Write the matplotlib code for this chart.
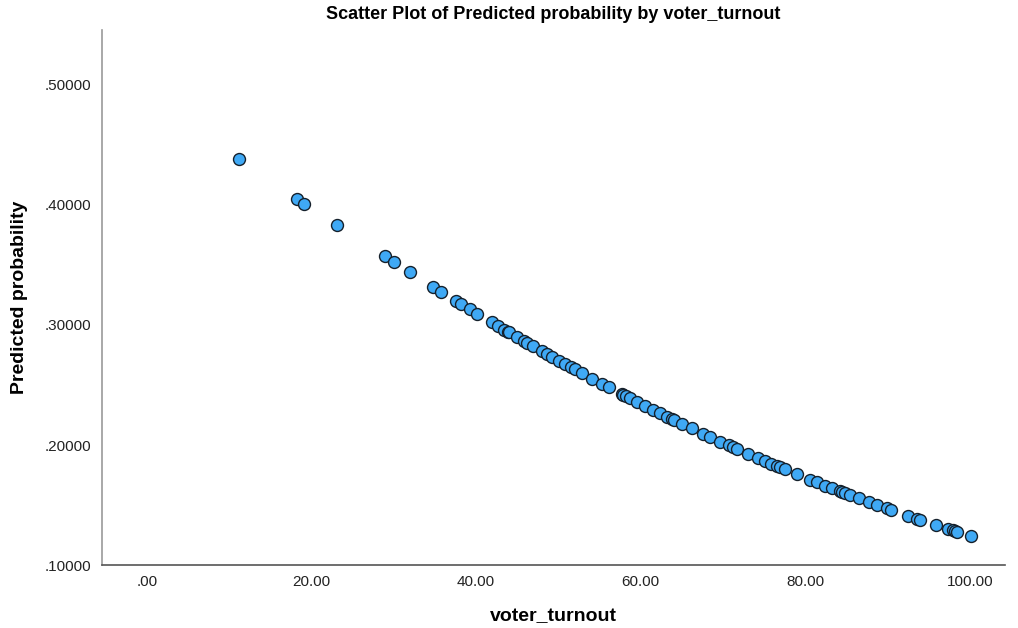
import matplotlib.pyplot as plt

# values
voter_turnout = [
    11.2, 18.2, 19.1, 23.1, 28.9, 30.0, 31.96, 34.75, 35.7, 37.5,
    38.2, 39.2, 40.1, 41.9, 42.6, 43.4, 43.9, 44.0, 45.0, 45.8,
    46.2, 46.9, 48.0, 48.6, 49.2, 50.1, 50.8, 51.5, 52.0, 52.9,
    54.1, 55.3, 56.1, 57.7, 57.9, 58.2, 58.7, 59.5, 60.5, 61.5,
    62.3, 63.2, 63.8, 64.0, 65.0, 66.2, 67.6, 68.4, 69.7, 70.7,
    71.2, 71.7, 73.1, 74.2, 75.1, 75.8, 76.6, 76.9, 77.5, 79.0,
    80.6, 81.4, 82.4, 83.2, 84.2, 84.5, 84.8, 85.4, 86.5, 87.8,
    88.7, 89.9, 90.4, 92.5, 93.6, 93.9, 95.9, 97.3, 98.0, 98.2,
    98.5, 100.2,
]
pred_prob = [
    0.4381, 0.4054, 0.4012, 0.3830, 0.3571, 0.3523, 0.3438, 0.3318, 0.3278, 0.3203,
    0.3173, 0.3132, 0.3095, 0.3022, 0.2994, 0.2962, 0.2942, 0.2938, 0.2898, 0.2867,
    0.2851, 0.2824, 0.2781, 0.2758, 0.2735, 0.2701, 0.2675, 0.2649, 0.2630, 0.2597,
    0.2553, 0.2510, 0.2481, 0.2424, 0.2417, 0.2407, 0.2389, 0.2361, 0.2327, 0.2293,
    0.2266, 0.2236, 0.2216, 0.2209, 0.2177, 0.2138, 0.2093, 0.2068, 0.2027, 0.1997,
    0.1981, 0.1966, 0.1924, 0.1892, 0.1865, 0.1845, 0.1822, 0.1814, 0.1797, 0.1755,
    0.1711, 0.1689, 0.1662, 0.1641, 0.1615, 0.1607, 0.1600, 0.1584, 0.1557, 0.1524,
    0.1502, 0.1473, 0.1461, 0.1411, 0.1386, 0.1379, 0.1334, 0.1304, 0.1288, 0.1284,
    0.1278, 0.1242,
]
x_ticks = [0, 20, 40, 60, 80, 100]
x_labels = [".00", "20.00", "40.00", "60.00", "80.00", "100.00"]
y_ticks = [0.1, 0.2, 0.3, 0.4, 0.5]
y_labels = [".10000", ".20000", ".30000", ".40000", ".50000"]

plt.rcParams["font.family"] = ["Liberation Sans", "DejaVu Sans"]

fig = plt.figure(figsize=(10.18, 6.28), dpi=100)
ax = fig.add_axes([0.1002, 0.1003, 0.8868, 0.8519])

ax.scatter(voter_turnout, pred_prob, s=74, c="#3fa9f5",
           edgecolors="#15202b", linewidths=1.0, zorder=3)

ax.set_xlim(-5.47, 104.25)
ax.set_ylim(0.10, 0.5458)
ax.set_xticks(x_ticks)
ax.set_xticklabels(x_labels)
ax.set_yticks(y_ticks)
ax.set_yticklabels(y_labels)
ax.tick_params(length=0, labelsize=11, colors="#222222")
ax.tick_params(axis="y", pad=8)
ax.tick_params(axis="x", pad=7)

for side in ["top", "right"]:
    ax.spines[side].set_visible(False)
ax.spines["left"].set_color("#999999")
ax.spines["bottom"].set_color("#555555")
ax.spines["left"].set_linewidth(1.2)
ax.spines["bottom"].set_linewidth(1.2)

ax.set_title("Scatter Plot of Predicted probability by voter_turnout",
             fontsize=13, fontweight="bold", pad=8)
ax.set_xlabel("voter_turnout", fontsize=14, fontweight="bold", labelpad=14)
ax.set_ylabel("Predicted probability", fontsize=14, fontweight="bold", labelpad=12)

fig.savefig("out.png", dpi=100)
